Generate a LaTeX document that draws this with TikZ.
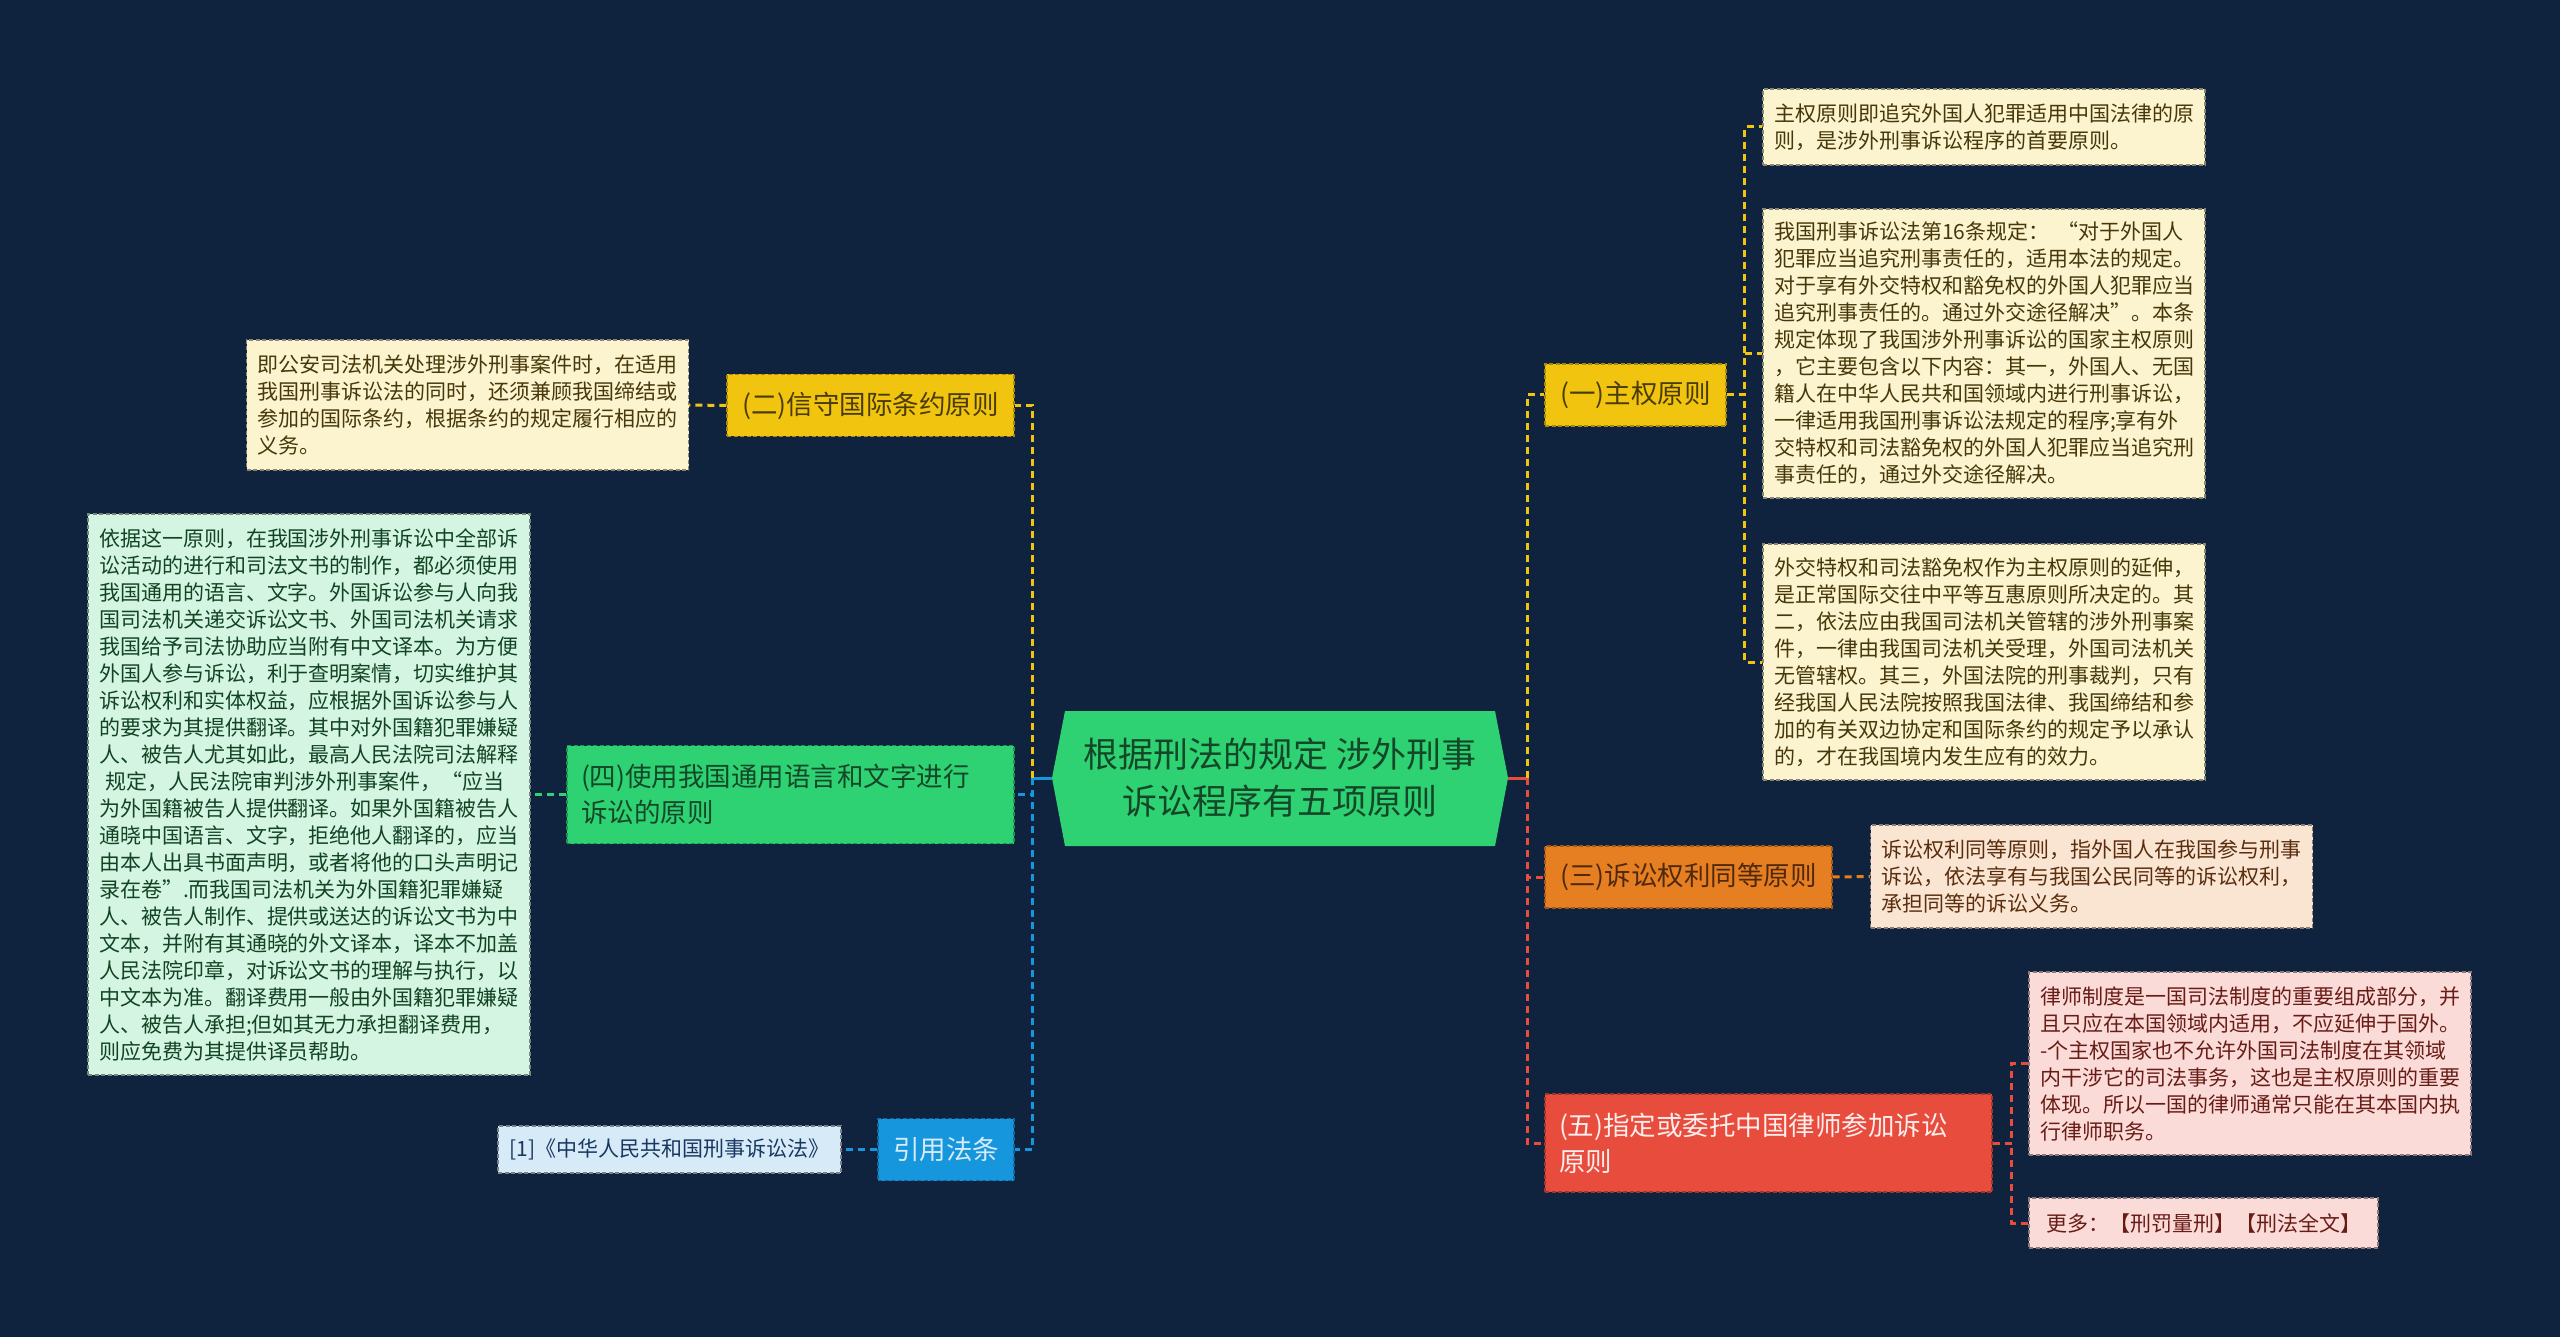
\documentclass[tikz,border=0pt]{standalone}
\usepackage{fontspec}
\setmainfont{Noto Sans CJK SC}
\begin{document}
\begin{tikzpicture}[x=1pt,y=-1pt,
  box/.style={rectangle,inner ysep=0pt,line width=1.2pt,dash pattern=on 4pt off 2.5pt},
  mainbox/.style={box,inner xsep=14pt,font=\fontsize{26.5}{36}\selectfont,minimum height=62pt},
  leafbox/.style={box,inner xsep=11pt,font=\fontsize{21}{27}\selectfont},
  twoline/.style={align=left,text width=419pt,minimum height=98pt},
  leaftext/.style={align=left,text width=420pt},
  yellowbox/.style={mainbox,fill=cYellow,draw=cYellow!70!black,text=tYellow},
  orangebox/.style={mainbox,fill=cOrange,draw=cOrange!70!black,text=tOrange},
  redbox/.style={mainbox,fill=cRed,draw=cRed!70!black,text=tRed},
  greenbox/.style={mainbox,fill=cGreen,draw=cGreen!70!black,text=tGreen},
  bluebox/.style={mainbox,fill=cBlue,draw=cBlue!70!black,text=tBlue},
  creamleaf/.style={leafbox,fill=lCream,draw=lCream!55!black,text=tCream},
  peachleaf/.style={leafbox,fill=lPeach,draw=lPeach!55!black,text=tPeach},
  pinkleaf/.style={leafbox,fill=lPink,draw=lPink!55!black,text=tPink},
  mintleaf/.style={leafbox,fill=lMint,draw=lMint!55!black,text=tMint},
  skyleaf/.style={leafbox,fill=lSky,draw=lSky!55!black,text=tSky},
  trunk/.style={line width=3pt},
  link/.style={line width=3pt,dash pattern=on 7pt off 5pt}]
  \definecolor{bg}{RGB}{15,35,63}
  \definecolor{cYellow}{RGB}{241,196,15}
  \definecolor{cOrange}{RGB}{230,126,34}
  \definecolor{cRed}{RGB}{231,76,60}
  \definecolor{cGreen}{RGB}{46,210,115}
  \definecolor{cBlue}{RGB}{22,150,220}
  \definecolor{tYellow}{RGB}{74,60,8}
  \definecolor{tOrange}{RGB}{80,40,10}
  \definecolor{tRed}{RGB}{253,237,236}
  \definecolor{tGreen}{RGB}{20,70,40}
  \definecolor{tBlue}{RGB}{214,234,248}
  \definecolor{lCream}{RGB}{252,243,207}
  \definecolor{lPeach}{RGB}{250,229,211}
  \definecolor{lPink}{RGB}{250,219,216}
  \definecolor{lMint}{RGB}{213,245,227}
  \definecolor{lSky}{RGB}{214,234,248}
  \definecolor{tCream}{RGB}{70,56,10}
  \definecolor{tPeach}{RGB}{90,45,12}
  \definecolor{tPink}{RGB}{105,28,22}
  \definecolor{tMint}{RGB}{18,68,36}
  \definecolor{tSky}{RGB}{25,55,95}

  % background
  \useasboundingbox (0,0) rectangle (2560,1337);
  \fill[bg] (0,0) rectangle (2560,1337);

  % centre topic
  \fill[cGreen] (1052,778) -- (1065,711) -- (1495,711) -- (1508,778) -- (1495,846) -- (1065,846) -- cycle;
  \node[minimum width=456pt,minimum height=135pt,align=center,text=tGreen,
        font=\fontsize{35}{47}\selectfont] (root) at (1280,778)
    {根据刑法的规定 涉外刑事\\诉讼程序有五项原则};

  % right branches
  \node[yellowbox,minimum width=181pt] (p1) at (1635.5,395) {(一)主权原则};
  \node[orangebox,minimum width=287pt] (p3) at (1688.5,877) {(三)诉讼权利同等原则};
  \node[redbox,twoline] (p5) at (1768.5,1143) {(五)指定或委托中国律师参加诉讼\\原则};

  \node[creamleaf,leaftext,minimum height=76pt] (l1a) at (1984,127)
    {主权原则即追究外国人犯罪适用中国法律的原\\则，是涉外刑事诉讼程序的首要原则。};
  \node[creamleaf,leaftext,minimum height=289pt] (l1b) at (1984,353.5)
    {我国刑事诉讼法第16条规定：\hspace{0.4em}“对于外国人\\犯罪应当追究刑事责任的，适用本法的规定。\\对于享有外交特权和豁免权的外国人犯罪应当\\追究刑事责任的。通过外交途径解决”。本条\\规定体现了我国涉外刑事诉讼的国家主权原则\\，它主要包含以下内容：其一，外国人、无国\\籍人在中华人民共和国领域内进行刑事诉讼，\\一律适用我国刑事诉讼法规定的程序;享有外\\交特权和司法豁免权的外国人犯罪应当追究刑\\事责任的，通过外交途径解决。};
  \node[creamleaf,leaftext,minimum height=236pt] (l1c) at (1984,662)
    {外交特权和司法豁免权作为主权原则的延伸，\\是正常国际交往中平等互惠原则所决定的。其\\二，依法应由我国司法机关管辖的涉外刑事案\\件，一律由我国司法机关受理，外国司法机关\\无管辖权。其三，外国法院的刑事裁判，只有\\经我国人民法院按照我国法律、我国缔结和参\\加的有关双边协定和国际条约的规定予以承认\\的，才在我国境内发生应有的效力。};
  \node[peachleaf,leaftext,minimum height=103pt] (l3) at (2091.5,876.5)
    {诉讼权利同等原则，指外国人在我国参与刑事\\诉讼，依法享有与我国公民同等的诉讼权利，\\承担同等的诉讼义务。};
  \node[pinkleaf,leaftext,minimum height=183pt] (l5a) at (2250,1063.5)
    {律师制度是一国司法制度的重要组成部分，并\\且只应在本国领域内适用，不应延伸于国外。\\-个主权国家也不允许外国司法制度在其领域\\内干涉它的司法事务，这也是主权原则的重要\\体现。所以一国的律师通常只能在其本国内执\\行律师职务。};
  \node[pinkleaf,minimum width=349pt,minimum height=50pt] (l5b) at (2203.5,1223)
    {更多：【刑罚量刑】【刑法全文】};

  % left branches
  \node[yellowbox,minimum width=287pt] (p2) at (870.5,405.5) {(二)信守国际条约原则};
  \node[greenbox,twoline] (p4) at (790.5,794.5) {(四)使用我国通用语言和文字进行\\诉讼的原则};
  \node[bluebox,minimum width=136pt] (pr) at (946,1149.5) {引用法条};

  \node[creamleaf,leaftext,minimum height=130pt] (lp2) at (467.5,405)
    {即公安司法机关处理涉外刑事案件时，在适用\\我国刑事诉讼法的同时，还须兼顾我国缔结或\\参加的国际条约，根据条约的规定履行相应的\\义务。};
  \node[mintleaf,leaftext,minimum height=561pt] (lp4) at (309,794.5)
    {依据这一原则，在我国涉外刑事诉讼中全部诉\\讼活动的进行和司法文书的制作，都必须使用\\我国通用的语言、文字。外国诉讼参与人向我\\国司法机关递交诉讼文书、外国司法机关请求\\我国给予司法协助应当附有中文译本。为方便\\外国人参与诉讼，利于查明案情，切实维护其\\诉讼权利和实体权益，应根据外国诉讼参与人\\的要求为其提供翻译。其中对外国籍犯罪嫌疑\\人、被告人尤其如此，最高人民法院司法解释\\\hspace*{0.3em}规定，人民法院审判涉外刑事案件，“应当\\为外国籍被告人提供翻译。如果外国籍被告人\\通晓中国语言、文字，拒绝他人翻译的，应当\\由本人出具书面声明，或者将他的口头声明记\\录在卷”.而我国司法机关为外国籍犯罪嫌疑\\人、被告人制作、提供或送达的诉讼文书为中\\文本，并附有其通晓的外文译本，译本不加盖\\人民法院印章，对诉讼文书的理解与执行，以\\中文本为准。翻译费用一般由外国籍犯罪嫌疑\\人、被告人承担;但如其无力承担翻译费用，\\则应免费为其提供译员帮助。};
  \node[skyleaf,minimum width=343pt,minimum height=47pt] (lpr) at (669.5,1149.5)
    {[1]《中华人民共和国刑事诉讼法》};

  % connectors, right side
  \draw[trunk,cRed] (root.east) -- ++(19,0) coordinate (rj);
  \draw[link,cYellow] (rj) |- (p1.west);
  \draw[link,cRed] (rj) |- (p3.west);
  \draw[link,cRed] (rj) |- (p5.west);
  \draw[link,cYellow] (p1.east) -- ++(18,0) |- (l1a.west);
  \draw[link,cYellow] (p1.east) -- ++(18,0) |- (l1b.west);
  \draw[link,cYellow] (p1.east) -- ++(18,0) |- (l1c.west);
  \draw[link,cOrange] (p3.east) -- (l3.west);
  \draw[link,cRed] (p5.east) -- ++(19,0) |- (l5a.west);
  \draw[link,cRed] (p5.east) -- ++(19,0) |- (l5b.west);

  % connectors, left side
  \draw[trunk,cBlue] (root.west) -- ++(-19,0) coordinate (lj);
  \draw[link,cYellow] (lj) |- (p2.east);
  \draw[link,cBlue] (lj) |- (p4.east);
  \draw[link,cBlue] (lj) |- (pr.east);
  \draw[link,cYellow] (p2.west) -- (lp2.east);
  \draw[link,cGreen] (p4.west) -- (lp4.east);
  \draw[link,cBlue] (pr.west) -- (lpr.east);
\end{tikzpicture}
\end{document}
